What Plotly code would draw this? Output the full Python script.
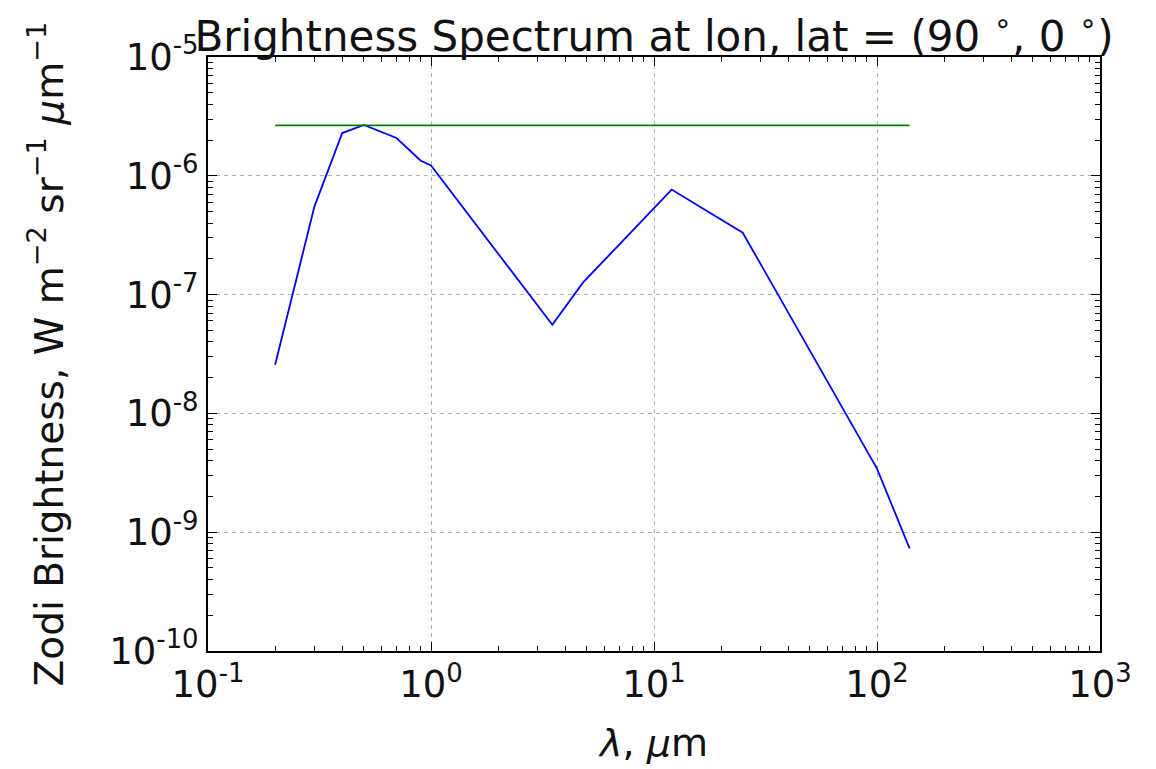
import plotly.graph_objects as go

wavelength_um = [0.2, 0.3, 0.4, 0.5, 0.7, 0.9, 1.0, 3.5, 4.8, 12.0, 25.0, 100.0, 140.0]
brightness = [2.57e-8, 5.5e-7, 2.29e-6, 2.68e-6, 2.08e-6, 1.34e-6, 1.22e-6,
              5.57e-8, 1.26e-7, 7.66e-7, 3.32e-7, 3.43e-9, 7.3e-10]
ref_x = [0.2, 140.0]
ref_y = [2.66e-6, 2.66e-6]

x_tickvals = [0.1, 1, 10, 100, 1000]
x_ticktext = ["10<sup>-1</sup>", "10<sup>0</sup>", "10<sup>1</sup>", "10<sup>2</sup>", "10<sup>3</sup>"]
y_tickvals = [1e-10, 1e-9, 1e-8, 1e-7, 1e-6, 1e-5]
y_ticktext = ["10<sup>-10</sup>", "10<sup>-9</sup>", "10<sup>-8</sup>", "10<sup>-7</sup>",
              "10<sup>-6</sup>", "10<sup>-5</sup>"]

x_minor = [m * d for d in x_tickvals[:-1] for m in range(2, 10)]
y_minor = [m * d for d in y_tickvals[:-1] for m in range(2, 10)]

fig = go.Figure()
fig.add_trace(go.Scatter(x=wavelength_um, y=brightness, mode="lines",
                         line=dict(color="#0000ff", width=1.8), showlegend=False))
fig.add_trace(go.Scatter(x=ref_x, y=ref_y, mode="lines",
                         line=dict(color="#008000", width=1.8), showlegend=False))

font = "DejaVu Sans"
axis_common = dict(
    showline=True, linecolor="black", linewidth=2, mirror="allticks",
    ticks="inside", ticklen=9, tickwidth=1, tickcolor="black",
    showgrid=True, gridcolor="#b0b0b0", griddash="4px,4px", gridwidth=1,
    zeroline=False, tickfont=dict(family=font, size=37, color="#111111"),
)

fig.update_xaxes(type="log", range=[-1, 3], tickmode="array", tickvals=x_tickvals, ticktext=x_ticktext,
                 minor=dict(tickmode="array", tickvals=x_minor, ticks="inside", ticklen=5,
                            tickwidth=1, tickcolor="black", showgrid=False),
                 title=dict(text="<i>λ</i>, <i>μ</i>m", font=dict(family=font, size=38, color="#111111"),
                            standoff=24),
                 **axis_common)
fig.update_yaxes(type="log", range=[-10, -5], tickmode="array", tickvals=y_tickvals, ticktext=y_ticktext,
                 minor=dict(tickmode="array", tickvals=y_minor, ticks="inside", ticklen=5,
                            tickwidth=1, tickcolor="black", showgrid=False),
                 title=dict(text="Zodi Brightness, W m<sup>−2</sup> sr<sup>−1</sup> <i>μ</i>m<sup>−1</sup>",
                            font=dict(family=font, size=39, color="#111111"), standoff=34),
                 **axis_common)

fig.update_layout(
    width=1156, height=769,
    margin=dict(l=208, r=56, t=57, b=116),
    paper_bgcolor="white", plot_bgcolor="white",
    title=dict(text="Brightness Spectrum at lon, lat = (90 <sup>∘</sup>, 0 <sup>∘</sup>)",
               font=dict(family=font, size=42, color="#111111"),
               xref="paper", x=0.5, xanchor="center",
               yref="paper", y=1.0, yanchor="bottom", pad=dict(b=6)),
)

fig.write_html("out.html")
